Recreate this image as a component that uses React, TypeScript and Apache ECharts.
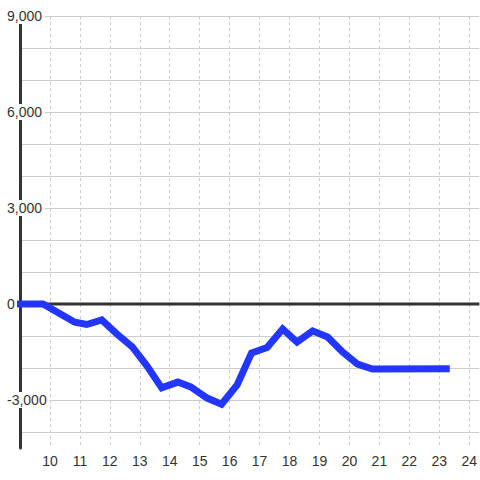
import React, { useEffect, useRef } from "react";
import * as echarts from "echarts";

// Time of day (hours) and cumulative value
const times = [8.9, 9.77, 10.83, 11.23, 11.73, 12.25, 12.75, 13.25, 13.73, 14.27, 14.7, 15.25, 15.73, 16.25, 16.73, 17.25, 17.77, 18.25, 18.77, 19.27, 19.77, 20.27, 20.77, 23.35];
const values = [0, 0, -570, -640, -500, -950, -1340, -1950, -2620, -2440, -2590, -2940, -3130, -2530, -1530, -1360, -780, -1190, -840, -1030, -1500, -1880, -2030, -2020];

const xTicks = [10, 11, 12, 13, 14, 15, 16, 17, 18, 19, 20, 21, 22, 23, 24];
const yGrid = [-4000, -3000, -2000, -1000, 0, 1000, 2000, 3000, 4000, 5000, 6000, 7000, 8000, 9000];
const yLabels = [-3000, 0, 3000, 6000, 9000];
const zeroLine = [[9, 0], [24.34, 0]];

const FONT = "'Liberation Sans', Arial, sans-serif";

export default function App() {
  const ref = useRef<HTMLDivElement>(null);
  useEffect(() => {
    if (!ref.current) return;
    const chart = echarts.init(ref.current, null, { renderer: "svg" });
    chart.setOption({
      animation: false,
      backgroundColor: "#ffffff",
      grid: { left: 20, right: 0, top: 16, bottom: 32, containLabel: false },
      xAxis: {
        type: "value",
        min: 9,
        max: 24.333,
        axisLine: { show: false },
        axisTick: { show: false, customValues: xTicks },
        axisLabel: {
          customValues: xTicks,
          color: "#333",
          fontSize: 14,
          fontFamily: FONT,
          margin: 6,
        },
        splitLine: { show: true, lineStyle: { color: "#cccccc", width: 1, type: [3, 3] } },
      },
      yAxis: {
        type: "value",
        min: -4500,
        max: 9000,
        axisLine: { show: true, lineStyle: { color: "#333", width: 3 } },
        axisTick: { show: false, customValues: yGrid },
        axisLabel: {
          customValues: yLabels,
          formatter: (v: number) => v.toLocaleString("en-US"),
          color: "#333",
          fontSize: 14,
          fontFamily: FONT,
          align: "left",
          margin: 15,
          backgroundColor: "#ffffff",
          padding: [1, 3, 1, 2],
        },
        splitLine: { show: true, lineStyle: { color: "#cccccc", width: 1 } },
      },
      series: [
        {
          type: "line",
          data: zeroLine,
          symbol: "none",
          silent: true,
          z: 1,
          lineStyle: { color: "#333", width: 3 },
        },
        {
          type: "line",
          data: times.map((t, i) => [t, values[i]]),
          symbol: "none",
          clip: false,
          z: 3,
          lineStyle: { color: "#2236ff", width: 7, join: "miter" },
        },
      ],
    });
    return () => chart.dispose();
  }, []);
  return (
    <div
      ref={ref}
      style={{ position: "absolute", left: 0, top: 0, width: 480, height: 480 }}
    />
  );
}
